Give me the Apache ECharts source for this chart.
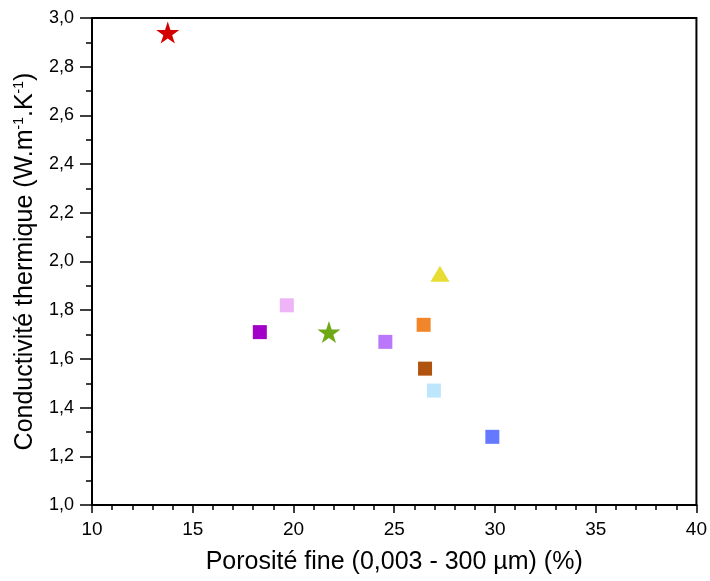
<!DOCTYPE html>
<html>
<head>
<meta charset="utf-8">
<script src="https://cdn.jsdelivr.net/npm/echarts@6/dist/echarts.min.js"></script>
<style>
html,body{margin:0;padding:0;background:#fff;}
#chart{width:710px;height:581px;}
</style>
</head>
<body>
<div id="chart"></div>
<script>
// Data
const sampleNames = ['s1','s2','s3','s4','s5','s6','s7','s8','s9','s10'];
const porosity = [13.76, 18.33, 19.67, 21.76, 24.56, 26.46, 27.27, 26.53, 26.97, 29.87];
const conductivity = [2.94, 1.71, 1.82, 1.71, 1.67, 1.74, 1.95, 1.56, 1.47, 1.28];
const markerColors = ['#d40000', '#a200c8', '#efb3f7', '#6ea815', '#bb77fb', '#f0852a', '#e8dc35', '#b0530e', '#bde5fb', '#6479ff'];
const markerShapes = ['star', 'square', 'square', 'star', 'square', 'square', 'triangle', 'square', 'square', 'square'];
const xTicks = { min: 10, max: 40, interval: 5 };
const yTicks = { min: 1.0, max: 3.0, interval: 0.2 };

const STAR = 'path://M50,0 L61.8,36.2 L100,36.2 L69.1,58.6 L80.9,95.1 L50,72.7 L19.1,95.1 L30.9,58.6 L0,36.2 L38.2,36.2 Z';
function symbolFor(shape) {
  if (shape === 'star') return { symbol: STAR, size: [23, 22] };
  if (shape === 'triangle') return { symbol: 'triangle', size: [19, 16] };
  return { symbol: 'rect', size: 14 };
}

const series = sampleNames.map((n, i) => {
  const s = symbolFor(markerShapes[i]);
  return {
    name: n,
    type: 'scatter',
    data: [[porosity[i], conductivity[i]]],
    symbol: s.symbol,
    symbolSize: s.size,
    itemStyle: { color: markerColors[i], opacity: 1 },
    z: 5
  };
});

const chart = echarts.init(document.getElementById('chart'), null, { renderer: 'canvas' });
const FONT = 'Liberation Sans, Arial, sans-serif';
chart.setOption({
  backgroundColor: '#fff',
  animation: false,
  grid: { left: 92, right: 13, top: 18, bottom: 76, show: true, borderColor: '#000', borderWidth: 2, backgroundColor: 'transparent' },
  xAxis: {
    type: 'value',
    min: xTicks.min, max: xTicks.max, interval: xTicks.interval,
    name: 'Porosité fine (0,003 - 300 µm) (%)',
    nameLocation: 'middle',
    nameGap: 45,
    nameTextStyle: { fontFamily: FONT, fontSize: 25, color: '#000' },
    axisLine: { show: true, lineStyle: { color: '#000', width: 2 } },
    axisTick: { show: true, inside: false, length: 8, lineStyle: { color: '#000', width: 1.5 } },
    minorTick: { show: true, splitNumber: 5, length: 5, lineStyle: { color: '#000', width: 1.5 } },
    splitLine: { show: false },
    axisLabel: { fontFamily: FONT, fontSize: 19, color: '#000', margin: 15 }
  },
  yAxis: {
    type: 'value',
    min: yTicks.min, max: yTicks.max, interval: yTicks.interval,
    name: 'Conductivité thermique (W.m{sup|-1}.K{sup|-1})',
    nameLocation: 'middle',
    nameGap: 54,
    nameRotate: 90,
    nameTextStyle: {
      fontFamily: FONT, fontSize: 25, color: '#000',
      rich: { sup: { fontFamily: FONT, fontSize: 14, color: '#000', verticalAlign: 'bottom', padding: [0, 0, 12, 0] } }
    },
    axisLine: { show: true, lineStyle: { color: '#000', width: 2 } },
    axisTick: { show: true, inside: false, length: 12, lineStyle: { color: '#000', width: 1.5 } },
    minorTick: { show: true, splitNumber: 2, length: 6, lineStyle: { color: '#000', width: 1.5 } },
    splitLine: { show: false },
    axisLabel: {
      fontFamily: FONT, fontSize: 18, color: '#000', margin: 18,
      formatter: v => v.toFixed(1).replace('.', ',')
    }
  },
  series: series
});
</script>
</body>
</html>
